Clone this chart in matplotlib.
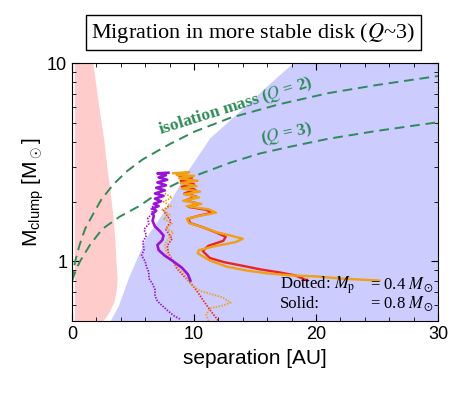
import matplotlib
matplotlib.use("Agg")
import matplotlib.pyplot as plt
from matplotlib.ticker import FixedLocator, MultipleLocator, NullFormatter
import numpy as np

plt.rcParams['mathtext.fontset'] = 'custom'
plt.rcParams['mathtext.rm'] = 'Liberation Sans'
plt.rcParams['mathtext.it'] = 'Liberation Sans:italic'

# unstable (pink) region: right edge vs mass
pink_m = [0.5, 0.55, 0.62, 0.7, 0.82, 1.0, 1.3, 1.7, 2.3, 3.0, 4.1, 6.0, 10.0]
pink_x = [2.5, 3.0, 3.4, 3.6, 3.7, 3.6, 3.5, 3.35, 3.1, 2.85, 2.6, 2.2, 1.7]

# blue region: left edge vs mass
blue_m = [0.5, 0.6, 0.82, 1.0, 1.3, 1.9, 2.82, 4.2, 6.0, 8.0, 10.0]
blue_x = [3.1, 3.8, 4.6, 5.2, 6.0, 7.8, 9.4, 11.3, 14.1, 16.3, 18.1]

# isolation mass curves
iso2_x = [0, 0.25, 0.6, 1.07, 1.7, 2.4, 3.4, 4.5, 5.8, 8.0, 10.0, 13.0, 17.0, 21.0, 25.0, 30.0]
iso2_m = [0.80, 1.0, 1.2, 1.46, 1.72, 2.05, 2.45, 2.85, 3.27, 3.9, 4.5, 5.3, 6.2, 7.05, 7.75, 8.6]
iso3_x = [0, 0.3, 0.65, 1.5, 2.5, 3.9, 5.5, 7.2, 9.0, 11.1, 13.0, 15.4, 18.0, 21.0, 25.0, 30.0]
iso3_m = [0.80, 0.9, 1.0, 1.22, 1.46, 1.68, 1.9, 2.24, 2.55, 2.85, 3.15, 3.5, 3.8, 4.15, 4.55, 5.03]

# clump tracks
purple_solid_x = [7.9, 7.0, 7.7, 7.1, 7.8, 7.0, 7.7, 6.9, 7.6, 6.8, 7.5, 6.8, 7.3, 6.7, 7.1, 6.6,
                  6.9, 6.6, 6.7, 6.6, 6.8, 7.2, 7.5, 7.4, 7.0, 7.1, 7.6, 8.3, 9.0, 9.5, 9.7]
purple_solid_m = [2.80, 2.78, 2.72, 2.65, 2.58, 2.50, 2.42, 2.35, 2.28, 2.20, 2.14, 2.07, 2.01, 1.95, 1.90, 1.85,
                  1.80, 1.74, 1.70, 1.60, 1.50, 1.42, 1.35, 1.28, 1.21, 1.14, 1.07, 1.00, 0.93, 0.86, 0.80]
purple_dot_x = [6.8, 6.5, 6.6, 6.2, 6.3, 5.9, 6.1, 5.8, 5.9, 5.7, 6.0, 6.1, 6.3, 6.3, 6.6, 6.8,
                6.8, 7.0, 7.5, 7.9, 8.4, 8.9]
purple_dot_m = [1.95, 1.85, 1.75, 1.65, 1.55, 1.45, 1.35, 1.25, 1.15, 1.07, 1.00, 0.94, 0.88, 0.82, 0.77, 0.72,
                0.67, 0.63, 0.59, 0.56, 0.53, 0.51]
red_solid_x = [8.6, 9.4, 8.8, 9.8, 8.9, 10.0, 9.0, 10.1, 9.2, 10.2, 9.3, 10.4, 9.6, 11.0, 11.5, 10.4,
               9.5, 9.7, 10.8, 11.8, 12.6, 12.4, 11.2, 10.7, 11.3, 12.5, 14.0, 15.5, 17.0, 18.3, 19.3]
red_solid_m = [2.75, 2.80, 2.68, 2.62, 2.55, 2.45, 2.38, 2.30, 2.20, 2.12, 2.03, 1.95, 1.88, 1.82, 1.76, 1.70,
               1.64, 1.56, 1.48, 1.40, 1.33, 1.27, 1.20, 1.13, 1.04, 0.99, 0.95, 0.91, 0.88, 0.85, 0.80]
red_dot_x = [7.9, 7.5, 8.1, 7.7, 8.2, 7.8, 7.9, 8.3, 8.6, 9.2, 9.8, 10.3, 10.8, 11.3, 11.8, 12.0]
red_dot_m = [1.90, 1.80, 1.60, 1.45, 1.30, 1.20, 1.10, 1.00, 0.92, 0.84, 0.77, 0.70, 0.63, 0.57, 0.52, 0.50]
orange_solid_x = [8.3, 9.6, 8.6, 10.0, 8.8, 10.3, 8.9, 10.2, 9.0, 10.5, 9.2, 10.4, 9.1, 10.6, 9.4, 11.2,
                  11.8, 10.5, 9.4, 9.6, 10.8, 11.9, 13.0, 14.0, 13.4, 11.6, 10.4, 10.3, 11.3, 12.7, 14.3,
                  16.0, 18.0, 20.0, 22.0, 25.2]
orange_solid_m = [2.78, 2.82, 2.72, 2.70, 2.62, 2.55, 2.48, 2.40, 2.33, 2.25, 2.18, 2.10, 2.02, 1.95, 1.90, 1.83,
                  1.76, 1.70, 1.64, 1.56, 1.48, 1.40, 1.35, 1.30, 1.25, 1.19, 1.14, 1.10, 1.01, 0.94, 0.90,
                  0.87, 0.85, 0.84, 0.82, 0.80]
orange_dot_x = [7.6, 8.2, 7.5, 8.1, 7.4, 8.0, 7.5, 8.2, 7.7, 8.3, 8.0, 7.6, 7.7, 8.2, 8.7, 9.3,
                9.8, 10.5, 11.2, 12.3, 13.0, 12.4, 11.3, 11.0, 11.2]
orange_dot_m = [2.20, 2.10, 2.00, 1.90, 1.82, 1.72, 1.64, 1.55, 1.47, 1.40, 1.32, 1.22, 1.12, 1.02, 0.93, 0.84,
                0.76, 0.71, 0.69, 0.66, 0.62, 0.60, 0.58, 0.54, 0.50]

purple = '#9a10dc'
red = '#ee2222'
orange = '#f0a010'
green = '#2e8b57'

fig = plt.figure(figsize=(4.74, 3.94), dpi=100)
ax = fig.add_axes([0.152, 0.185, 0.772, 0.655])

ax.fill_betweenx(pink_m, 0.2, pink_x, color='#ffcccc', lw=0)
ax.fill_betweenx(blue_m, blue_x, 30, color='#ccccff', lw=0)

ax.plot(iso2_x, iso2_m, '--', color=green, lw=1.4, dashes=(5, 3))
ax.plot(iso3_x, iso3_m, '--', color=green, lw=1.4, dashes=(5, 3))

dot = (0.8, 0.8)
ax.plot(purple_dot_x, purple_dot_m, color=purple, lw=1.3, dashes=dot)
ax.plot(red_dot_x, red_dot_m, color=red, lw=1.3, dashes=dot)
ax.plot(orange_dot_x, orange_dot_m, color=orange, lw=1.3, dashes=dot)
ax.plot(red_solid_x, red_solid_m, '-', color=red, lw=1.7)
ax.plot(orange_solid_x, orange_solid_m, '-', color=orange, lw=1.7)
ax.plot(purple_solid_x, purple_solid_m, '-', color=purple, lw=1.9)

ax.set_yscale('log')
ax.set_xlim(0, 30)
ax.set_ylim(0.5, 10)
ax.xaxis.set_major_locator(FixedLocator([0, 10, 20, 30]))
ax.xaxis.set_minor_locator(MultipleLocator(2))
ax.yaxis.set_major_locator(FixedLocator([1, 10]))
ax.yaxis.set_minor_locator(FixedLocator([0.5, 0.6, 0.7, 0.8, 0.9, 2, 3, 4, 5, 6, 7, 8, 9]))
ax.yaxis.set_minor_formatter(NullFormatter())
ax.set_yticklabels(['1', '10'])
ax.tick_params(which='both', direction='in', top=True, right=True, labelsize=13)
ax.tick_params(which='major', length=5)
ax.tick_params(which='minor', length=3)
for lab in ax.get_xticklabels() + ax.get_yticklabels():
    lab.set_family('Liberation Sans')

ax.set_xlabel('separation [AU]', fontsize=15, family='Liberation Sans')
ax.set_ylabel(r'M$_{\mathrm{clump}}$ [M$_\odot$]', fontsize=15, family='Liberation Sans', labelpad=1)

ax.text(13.4, 6.05, r'isolation mass ($Q$ = 2)', color=green, fontsize=12.5, fontweight='bold',
        family='Liberation Serif', math_fontfamily='stix', rotation=17.5, ha='center', va='center')
ax.text(17.6, 4.4, r'($Q$ = 3)', color=green, fontsize=12.5, fontweight='bold',
        family='Liberation Serif', math_fontfamily='stix', rotation=12, ha='center', va='center')

ax.text(17.05, 0.76, r'Dotted: $M_{\rm p}$', fontsize=12, family='Liberation Serif',
        math_fontfamily='stix', va='center')
ax.text(17.05, 0.61, 'Solid:', fontsize=12, family='Liberation Serif', va='center')
ax.text(24.4, 0.76, r'= 0.4 $M_\odot$', fontsize=12, family='Liberation Serif',
        math_fontfamily='stix', va='center')
ax.text(24.4, 0.61, r'= 0.8 $M_\odot$', fontsize=12, family='Liberation Serif',
        math_fontfamily='stix', va='center')

fig.text(0.534, 0.9175, r'Migration in more stable disk ($Q$~3)', fontsize=16,
         family='Liberation Serif', math_fontfamily='stix', ha='center', va='center',
         bbox=dict(boxstyle='square,pad=0.25', fc='white', ec='black', lw=1))

fig.savefig('out.png', dpi=100)
